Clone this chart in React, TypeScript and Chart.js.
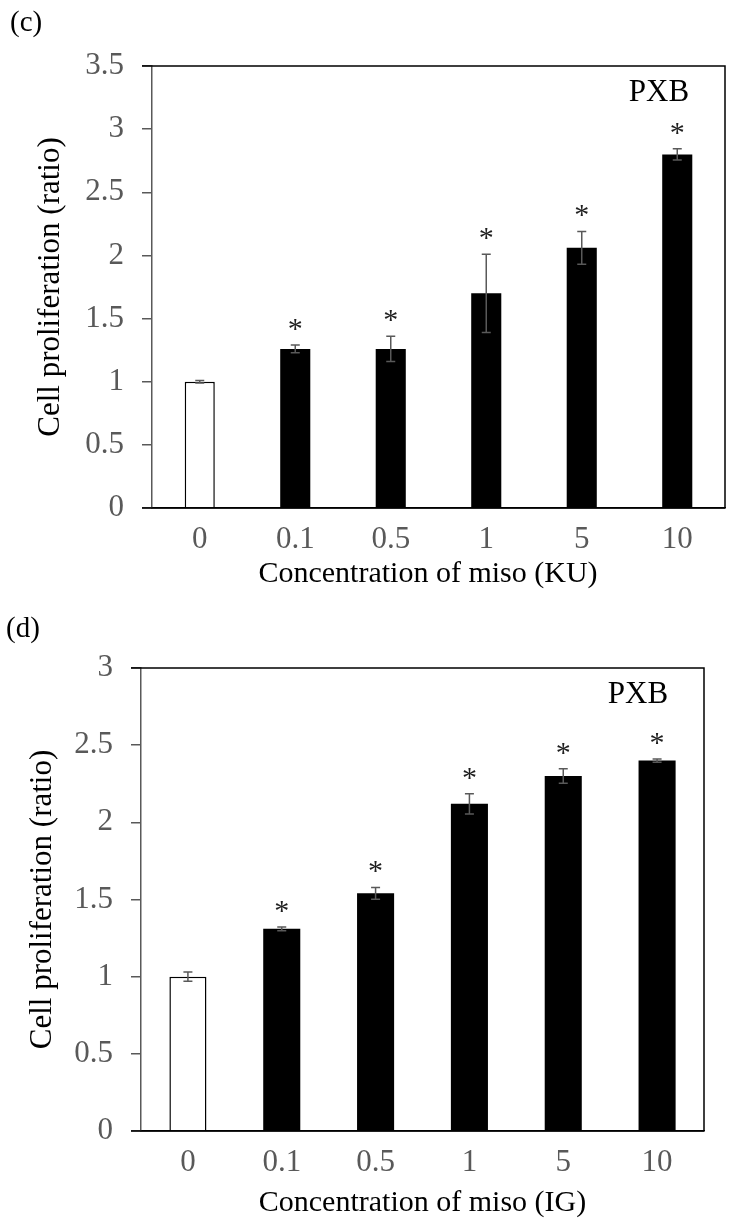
import React, { useEffect, useRef } from "react";
import { Chart, registerables } from "chart.js";

Chart.register(...registerables);

const categories = ["0", "0.1", "0.5", "1", "5", "10"];

const yTicksC = [0, 0.5, 1, 1.5, 2, 2.5, 3, 3.5];
const valuesC = [1.0, 1.26, 1.26, 1.7, 2.06, 2.8];
const errorsC = [0.01, 0.03, 0.1, 0.31, 0.13, 0.045];
const sigC = [false, true, true, true, true, true];

const yTicksD = [0, 0.5, 1, 1.5, 2, 2.5, 3];
const valuesD = [1.0, 1.31, 1.54, 2.12, 2.3, 2.4];
const errorsD = [0.03, 0.012, 0.038, 0.066, 0.047, 0.01];
const sigD = [false, true, true, true, true, true];

const SERIF = '"Liberation Serif", "Times New Roman", serif';

type Cfg = {
  top: number;
  height: number;
  padTop: number;
  padRight: number;
  yWidth: number;
  xHeight: number;
  xTitlePad: number;
  yTitlePad: number;
  yMax: number;
  yTicks: number[];
  values: number[];
  errors: number[];
  sig: boolean[];
  xTitle: string;
  barPct: number;
};

function makePlugin(cfg: Cfg) {
  return {
    id: "decor",
    afterDraw(chart: any) {
      const { ctx, chartArea: a, scales } = chart;
      const xs = scales.x;
      const ys = scales.y;
      ctx.save();
      // error bars + asterisks
      cfg.values.forEach((v, i) => {
        const px = xs.getPixelForValue(i);
        const top = ys.getPixelForValue(v + cfg.errors[i]);
        const bot = ys.getPixelForValue(v - cfg.errors[i]);
        ctx.strokeStyle = "#595959";
        ctx.lineWidth = 1.5;
        ctx.beginPath();
        ctx.moveTo(px, top);
        ctx.lineTo(px, bot);
        ctx.moveTo(px - 4.5, top);
        ctx.lineTo(px + 4.5, top);
        ctx.moveTo(px - 4.5, bot);
        ctx.lineTo(px + 4.5, bot);
        ctx.stroke();
        if (cfg.sig[i]) {
          ctx.fillStyle = "#1f1f1f";
          ctx.font = `30px ${SERIF}`;
          ctx.textAlign = "center";
          ctx.textBaseline = "alphabetic";
          ctx.fillText("*", px, top - 20 + 13);
        }
      });
      // frame
      ctx.strokeStyle = "#000";
      ctx.lineWidth = 1.5;
      ctx.beginPath();
      ctx.moveTo(a.left - 10, a.top);
      ctx.lineTo(a.right, a.top);
      ctx.lineTo(a.right, a.bottom);
      ctx.moveTo(a.left - 10, a.bottom);
      ctx.lineTo(a.right, a.bottom);
      ctx.stroke();
      // PXB
      ctx.fillStyle = "#000";
      ctx.font = `31px ${SERIF}`;
      ctx.textAlign = "center";
      ctx.textBaseline = "middle";
      ctx.fillText("PXB", a.right - 66, a.top + 27);
      ctx.restore();
    },
  };
}

function BarPanel({ cfg }: { cfg: Cfg }) {
  const ref = useRef<HTMLCanvasElement>(null);
  useEffect(() => {
    if (!ref.current) return;
    const chart = new Chart(ref.current, {
      type: "bar",
      data: {
        labels: categories,
        datasets: [
          {
            data: cfg.values,
            backgroundColor: cfg.values.map((_, i) => (i === 0 ? "#ffffff" : "#000000")),
            borderColor: "#000000",
            borderWidth: cfg.values.map((_, i) => (i === 0 ? 1.5 : 0)),
            barPercentage: cfg.barPct,
            categoryPercentage: 1,
          },
        ],
      },
      options: {
        responsive: false,
        animation: false,
        devicePixelRatio: 1,
        layout: { padding: { top: cfg.padTop, right: cfg.padRight, left: 0, bottom: 0 } },
        plugins: { legend: { display: false }, tooltip: { enabled: false } },
        scales: {
          x: {
            grid: { display: false },
            border: { display: true, color: "#000", width: 1.5 },
            ticks: {
              color: "#595959",
              font: { family: SERIF, size: 31 },
              padding: 5,
              maxRotation: 0,
              autoSkip: false,
            },
            title: {
              display: true,
              text: cfg.xTitle,
              color: "#000",
              font: { family: SERIF, size: 30 },
              padding: { top: 0, bottom: cfg.xTitlePad },
            },
            afterFit: (s: any) => {
              s.height = cfg.xHeight;
            },
          },
          y: {
            min: 0,
            max: cfg.yMax,
            afterBuildTicks: (s: any) => {
              s.ticks = cfg.yTicks.map((v) => ({ value: v }));
            },
            ticks: {
              color: "#595959",
              font: { family: SERIF, size: 31 },
              padding: 18,
              callback: (v: any) => String(v),
            },
            grid: {
              drawOnChartArea: false,
              drawTicks: true,
              tickLength: 10,
              color: "#595959",
              lineWidth: 1.5,
            },
            border: { display: true, color: "#595959", width: 1.5 },
            title: {
              display: true,
              text: "Cell proliferation (ratio)",
              color: "#000",
              font: { family: SERIF, size: 31 },
              padding: { top: cfg.yTitlePad, bottom: 0 },
            },
            afterFit: (s: any) => {
              s.width = cfg.yWidth;
            },
          },
        },
      },
      plugins: [makePlugin(cfg)],
    } as any);
    return () => chart.destroy();
  }, [cfg]);
  return (
    <canvas
      ref={ref}
      width={734}
      height={cfg.height}
      style={{ position: "absolute", left: 0, top: cfg.top, width: 734, height: cfg.height }}
    />
  );
}

const cfgC: Cfg = {
  top: 0,
  height: 605,
  padTop: 66,
  padRight: 9,
  yWidth: 152,
  xHeight: 97,
  xTitlePad: 13,
  yTitlePad: 32,
  yMax: 3.5,
  yTicks: yTicksC,
  values: valuesC,
  errors: errorsC,
  sig: sigC,
  xTitle: "Concentration of miso (KU)\u2002\u2009",
  barPct: 0.315,
};

const cfgD: Cfg = {
  top: 605,
  height: 622,
  padTop: 63,
  padRight: 30,
  yWidth: 141,
  xHeight: 96,
  xTitlePad: 6,
  yTitlePad: 24,
  yMax: 3,
  yTicks: yTicksD,
  values: valuesD,
  errors: errorsD,
  sig: sigD,
  xTitle: "Concentration of miso (IG)",
  barPct: 0.395,
};

export default function App() {
  const labelStyle: React.CSSProperties = {
    position: "absolute",
    fontFamily: SERIF,
    fontSize: 29,
    lineHeight: "29px",
    color: "#000",
    whiteSpace: "nowrap",
  };
  return (
    <div style={{ position: "absolute", left: 0, top: 0, width: 734, height: 1227, background: "#fff", overflow: "hidden" }}>
      <BarPanel cfg={cfgC} />
      <BarPanel cfg={cfgD} />
      <div style={{ ...labelStyle, left: 10, top: 7 }}>(c)</div>
      <div style={{ ...labelStyle, left: 6, top: 613 }}>(d)</div>
    </div>
  );
}
